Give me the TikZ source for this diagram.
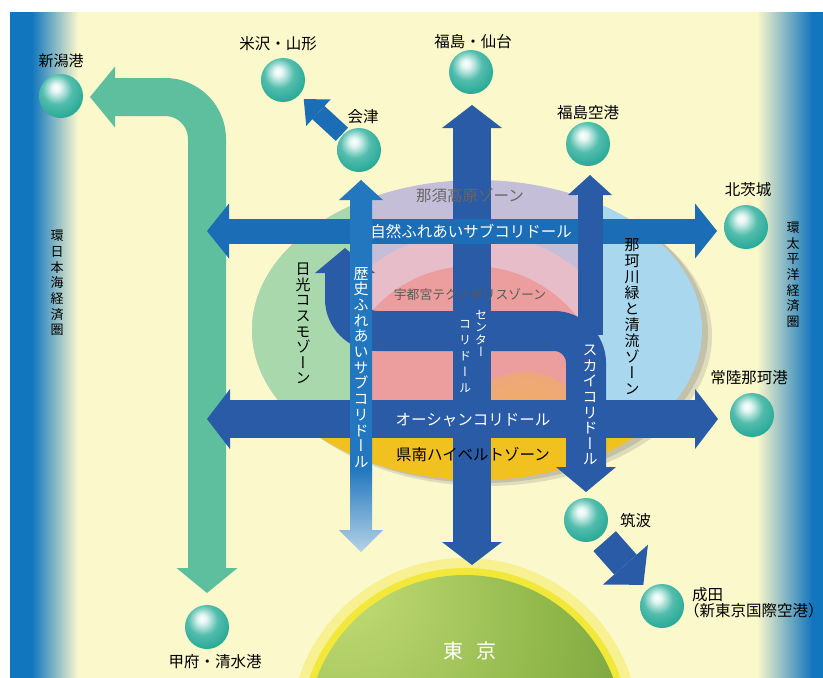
\documentclass[tikz,border=0pt]{standalone}
\usepackage{fontspec}
\usepackage{graphicx}
\setmainfont{Noto Sans CJK JP}
\newfontfamily\tatefont[RawFeature=+vert]{Noto Sans CJK JP}
\usetikzlibrary{arrows.meta}
\definecolor{paper}{HTML}{FBF8CB}
\definecolor{sea}{HTML}{1276BE}
\definecolor{wave}{HTML}{5EBF9F}
\definecolor{main}{HTML}{2A5BA6}
\definecolor{sub}{HTML}{1B6DB6}
\definecolor{hist}{HTML}{2277BF}
\definecolor{histfade}{HTML}{B5D3E6}
\definecolor{nikko}{HTML}{A9D8AC}
\definecolor{naka}{HTML}{A8D7EE}
\definecolor{nasu}{HTML}{C4BED9}
\definecolor{utsu}{HTML}{EC9D9E}
\definecolor{utsult}{HTML}{E6BDC8}
\definecolor{ken}{HTML}{F1C21F}
\definecolor{tkl}{HTML}{C8E07A}
\definecolor{tkm}{HTML}{8DB548}
\definecolor{tkd}{HTML}{4C7A2B}
\definecolor{glow}{HTML}{F2E83A}
\definecolor{pearlhi}{HTML}{8FD9CD}
\definecolor{pearlc}{HTML}{22A693}
\definecolor{pearldk}{HTML}{0C7265}
\colorlet{warmc}{ken!55!utsu}
\colorlet{pearlw}{white!75!pearlhi}
\colorlet{pearlm}{pearlhi!45!pearlc}
\pgfdeclareradialshading{tokyo}{\pgfpoint{-22bp}{26bp}}{color(0bp)=(tkl); color(30bp)=(tkm); color(66bp)=(tkd); color(90bp)=(tkd)}
\pgfdeclareradialshading{warm}{\pgfpointorigin}{color(0bp)=(warmc); color(50bp)=(utsu)}
\pgfdeclareradialshading{pearl}{\pgfpoint{-6bp}{10bp}}{color(0bp)=(white); color(5bp)=(pearlw); color(17bp)=(pearlm); color(33bp)=(pearlc); color(53bp)=(pearldk); color(75bp)=(pearldk)}
% vertical text: one glyph per line
\makeatletter
\newcommand\tate[2][1em]{\vbox{\tatefont\baselineskip=#1\lineskiplimit=-\maxdimen\tate@step#2\tate@stop}}
\def\tate@stop{\tate@stop}
\def\tate@step#1{\ifx#1\tate@stop\else\hbox to 1em{\hss#1\hss}\expandafter\tate@step\fi}
\makeatother

\begin{document}
\begin{tikzpicture}[x=1pt,y=-1pt,
    txt/.style={inner sep=0pt,font=\fontsize{15.5}{18}\selectfont},
    small/.style={inner sep=0pt,font=\fontsize{12.8}{15}\selectfont},
    tate/.style={inner sep=0pt,anchor=north,font=\fontsize{15}{15}\selectfont},
    sphere/.style={circle,inner sep=0pt,minimum size=44pt,shade,shading=pearl},
    blockarrows/.style 2 args={arrows={Triangle[length=#1,width=#2,line width=0pt]-Triangle[length=#1,width=#2,line width=0pt]}},
    corridor/.style={draw=main,line width=38pt,blockarrows={23pt}{60pt}},
    subcorridor/.style={draw=sub,line width=25pt,blockarrows={22pt}{55pt}},
    scorridor/.style={draw=main,line width=40pt,rounded corners=32pt,blockarrows={25pt}{60pt}},
    skycorridor/.style={draw=main,line width=25pt,arrows={Triangle[length=20pt,width=44pt,line width=0pt]-}},
    wavecorridor/.style={draw=wave,line width=38pt,rounded corners=42pt,blockarrows={25pt}{61pt}},
    subarrow/.style={draw=sub,line width=18pt,shorten <=1pt,shorten >=6pt,arrows={-Triangle[length=20pt,width=36pt,line width=0pt]}},
    mainarrow/.style={draw=main,line width=30pt,shorten <=6pt,shorten >=6pt,arrows={-Triangle[length=27pt,width=60pt,line width=0pt]}}]
  \useasboundingbox (0,0) rectangle (823,678);
  \clip (0,0) rectangle (823,678);
  % ---- paper and the two coasts
  \fill[white] (0,0) rectangle (823,678);
  \fill[paper] (10,12) rectangle (823,678);
  \fill[sea] (10,12) rectangle (32,678);
  \shade[left color=sea,right color=paper] (32,12) rectangle (78,678);
  \shade[left color=paper,right color=sea] (757,12) rectangle (812,678);
  \fill[sea] (812,12) rectangle (823,678);
  % ---- zones
  \fill[black!45,opacity=.25] (486,336) ellipse [x radius=226,y radius=150];
  \fill[black!55,opacity=.25] (483,333) ellipse [x radius=225,y radius=150];
  \begin{scope}
    \clip (477,330) ellipse [x radius=225,y radius=150];
    \fill[nasu] (250,175) rectangle (705,485);
    \fill[utsult] (472,400) circle [radius=168];
    \fill[utsu] (472,400) circle [radius=134];
    \shade[shading=warm] (525,440) circle [radius=68];
    \fill[nikko] (250,175) rectangle (352,485);
    \fill[naka] (600,175) rectangle (705,485);
    \fill[ken] (250,420) rectangle (705,485);
  \end{scope}
  % ---- Tokyo
  \fill[glow!40!paper] (465,733) circle [radius=175];
  \fill[glow] (465,733) circle [radius=165];
  \shade[shading=tokyo] (465,733) circle [radius=158];
  % ---- corridor ends
  \coordinate (w-s) at (207,593);
  \coordinate (w-c) at (207,97);
  \coordinate (w-n) at (90,97);
  \coordinate (c-n) at (472,105);
  \coordinate (c-s) at (472,565);
  \coordinate (n-w) at (207,231);
  \coordinate (n-e) at (717,231);
  \coordinate (k-n) at (590,175);
  \coordinate (k-j) at (590,335);
  \coordinate (r-n) at (345,248);
  \coordinate (r-w) at (345,331);
  \coordinate (r-e) at (586,331);
  \coordinate (r-s) at (586,492);
  \coordinate (o-w) at (207,419);
  \coordinate (o-e) at (718,419);
  % ---- corridors
  \draw[wavecorridor] (w-s) -- (w-c) -- (w-n);
  \draw[corridor] (c-n) -- (c-s);
  \draw[subcorridor] (n-w) -- (n-e);
  \draw[skycorridor] (k-n) -- (k-j);
  \draw[scorridor] (r-n) -- (r-w) -- (r-e) -- (r-s);
  \draw[corridor] (o-w) -- (o-e);
  \fill[hist] (361,180) -- (383,200) -- (372,200) -- (372,470) -- (350,470) -- (350,200) -- (339,200) -- cycle;
  \shade[top color=hist,bottom color=histfade] (350,469) -- (372,469) -- (372,530) -- (383,530) -- (361,552) -- (339,530) -- (350,530) -- cycle;
  % ---- cities
  \node[sphere] (niigata) at (61,96) {};
  \node[sphere] (yonezawa) at (283,80) {};
  \node[sphere] (aizu) at (359,150) {};
  \node[sphere] (fukushima) at (471,72) {};
  \node[sphere] (airport) at (588,144) {};
  \node[sphere] (kitaibaraki) at (746,227) {};
  \node[sphere] (hitachinaka) at (752,415) {};
  \node[sphere] (tsukuba) at (586,520) {};
  \node[sphere] (narita) at (662,606) {};
  \node[sphere] (kofu) at (207,627) {};
  \draw[subarrow] (aizu) -- (yonezawa);
  \draw[mainarrow] (tsukuba) -- (narita);
  \node[txt,font=\fontsize{15}{18}\selectfont] (l-niigata) at (61,61) {新潟港};
  \node[txt] (l-yonezawa) at (278,44) {米沢・山形};
  \node[txt] (l-aizu) at (363,117) {会津};
  \node[txt] (l-fukushima) at (473,42) {福島・仙台};
  \node[txt] (l-airport) at (588,113) {福島空港};
  \node[txt] (l-kitaibaraki) at (748,190) {北茨城};
  \node[txt] (l-hitachinaka) at (749,378) {常陸那珂港};
  \node[txt,anchor=west] (l-tsukuba) at (620,521) {筑波};
  \node[txt,anchor=west] (l-narita) at (692,595) {成田};
  \node[txt,anchor=west] (l-narita2) at (684,611) {（新東京国際空港）};
  \node[txt] (l-kofu) at (215,662) {甲府・清水港};
  \node[inner sep=0pt,text=white,font=\fontsize{20}{20}\selectfont] (l-tokyo) at (470,651) {東\hspace{13pt}京};
  % ---- zone and corridor names
  \node[txt,text=black!60] (l-nasu) at (470,196) {那須高原ゾーン};
  \node[small,text=black!65] (l-utsu) at (470,295) {宇都宮テクノポリスゾーン};
  \node[txt] (l-kennan) at (473,454) {県南ハイベルトゾーン};
  \node[txt,text=white] (l-nature) at (471,231) {自然ふれあいサブコリドール};
  \node[txt,text=white] (l-ocean) at (473,420) {オーシャンコリドール};
  \node[tate] (l-nikko) at (303,263) {\tate[15.6pt]{日光コスモゾーン}};
  \node[tate] (l-naka) at (632,238) {\tate[16pt]{那珂川緑と清流ゾーン}};
  \node[tate,text=white] (l-hist) at (361,267) {\tate[15.7pt]{歴史ふれあいサブコリドール}};
  \node[tate,text=white] (l-sky) at (590,345) {\tate[15.6pt]{スカイコリドール}};
  \node[tate,text=white,font=\fontsize{12}{12}\selectfont] (l-center1) at (481,310) {\tate[12.5pt]{センター}};
  \node[tate,text=white,font=\fontsize{12}{12}\selectfont] (l-center2) at (465,320) {\tate[16pt]{コリドール}};
  \node[tate,font=\fontsize{13}{13}\selectfont] (l-japansea) at (57,230) {\tate[15.7pt]{環日本海経済圏}};
  \node[tate,font=\fontsize{13}{13}\selectfont] (l-pacific) at (793,222) {\tate[15.6pt]{環太平洋経済圏}};
\end{tikzpicture}
\end{document}
